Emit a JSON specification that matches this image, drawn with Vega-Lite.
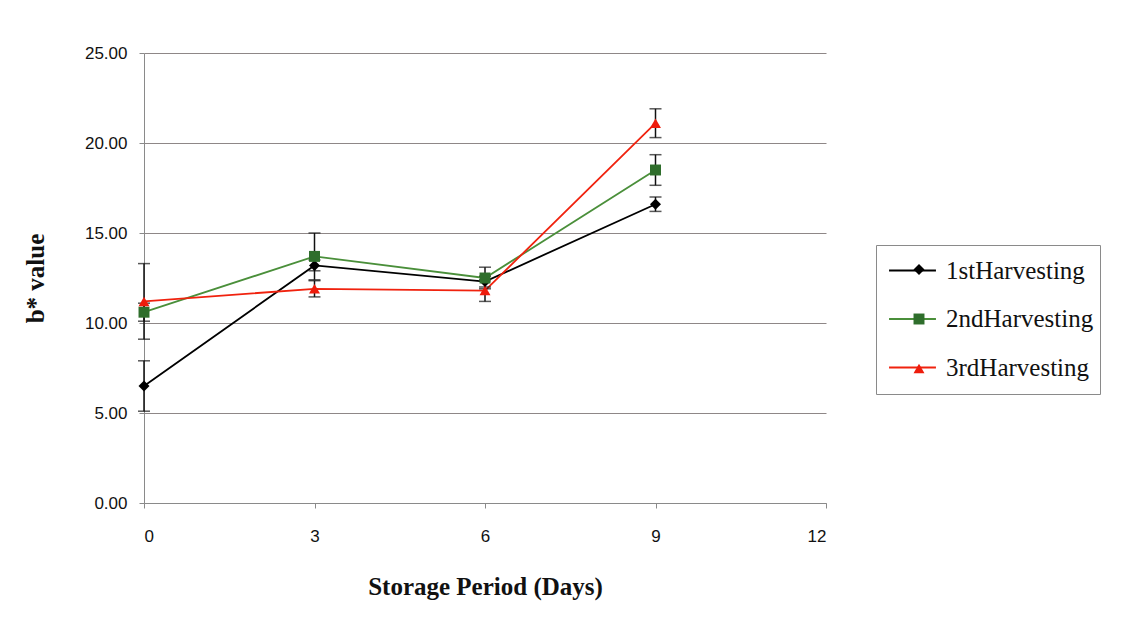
{
  "$schema": "https://vega.github.io/schema/vega-lite/v6.json",
  "width": 682,
  "height": 450,
  "autosize": "none",
  "padding": {"left": 144, "top": 53, "right": 297, "bottom": 129},
  "background": "white",
  "config": {
    "view": {"stroke": null},
    "axis": {"labelFont": "Liberation Sans", "labelFontSize": 17, "labelColor": "#111", "domainColor": "#8a8a8a", "tickColor": "#8a8a8a", "titleFont": "Liberation Serif", "titleFontSize": 25, "titleFontWeight": "bold", "titleColor": "#111"}
  },
  "data": {"values": [
    {"day": 0, "series": "1stHarvesting", "harvest": "1stHarvesting", "value": 6.5, "err": 1.4},
    {"day": 3, "series": "1stHarvesting", "harvest": "1stHarvesting", "value": 13.2, "err": 0.3},
    {"day": 6, "series": "1stHarvesting", "harvest": "1stHarvesting", "value": 12.3, "err": 0.3},
    {"day": 9, "series": "1stHarvesting", "harvest": "1stHarvesting", "value": 16.6, "err": 0.4},
    {"day": 0, "series": "2ndHarvesting", "harvest": "2ndHarvesting", "value": 10.6, "err": 0.5},
    {"day": 3, "series": "2ndHarvesting", "harvest": "2ndHarvesting", "value": 13.7, "err": 1.3},
    {"day": 6, "series": "2ndHarvesting", "harvest": "2ndHarvesting", "value": 12.5, "err": 0.6},
    {"day": 9, "series": "2ndHarvesting", "harvest": "2ndHarvesting", "value": 18.5, "err": 0.85},
    {"day": 0, "series": "3rdHarvesting", "harvest": "3rdHarvesting", "value": 11.2, "err": 2.1},
    {"day": 3, "series": "3rdHarvesting", "harvest": "3rdHarvesting", "value": 11.9, "err": 0.45},
    {"day": 6, "series": "3rdHarvesting", "harvest": "3rdHarvesting", "value": 11.8, "err": 0.6},
    {"day": 9, "series": "3rdHarvesting", "harvest": "3rdHarvesting", "value": 21.1, "err": 0.8}
  ]},
  "encoding": {
    "x": {"field": "day", "type": "quantitative", "scale": {"domain": [0, 12], "nice": false},
      "axis": {"values": [0, 3, 6, 9, 12], "grid": false, "tickSize": 5, "labelPadding": 20, "title": "Storage Period (Days)", "titlePadding": 30}},
    "y": {"field": "value", "type": "quantitative", "scale": {"domain": [0, 25], "nice": false},
      "axis": {"values": [0, 5, 10, 15, 20, 25], "format": ".2f", "grid": true, "gridColor": "#8e8787", "gridWidth": 1, "tickSize": 5, "labelPadding": 12, "title": "b* value", "titleAngle": 270, "titleX": -109, "titleY": 225, "titleAlign": "center", "titleBaseline": "middle"}}
  },
  "layer": [
    {
      "mark": {"type": "line", "strokeWidth": 1.8},
      "encoding": {
        "color": {"field": "series", "type": "nominal",
          "scale": {"domain": ["1stHarvesting", "2ndHarvesting", "3rdHarvesting"], "range": ["#000000", "#4a8f3a", "#f0220e"]},
          "legend": {"orient": "none", "legendX": 744, "legendY": 193, "title": null, "symbolType": "stroke", "symbolSize": 2200, "symbolStrokeWidth": 1.8, "labelFont": "Liberation Serif", "labelFontSize": 25, "labelColor": "#111", "labelOffset": 9, "rowPadding": 10.5, "padding": 0}}
      }
    },
    {
      "mark": {"type": "errorbar", "color": "#111", "thickness": 1.5, "ticks": {"size": 12, "color": "#111", "thickness": 1.5}},
      "encoding": {"yError": {"field": "err"}}
    },
    {
      "mark": {"type": "point", "filled": true, "opacity": 1, "size": 120},
      "encoding": {
        "fill": {"field": "harvest", "type": "nominal",
          "scale": {"range": ["#000000", "#2f6e2c", "#ee1c0c"]},
          "legend": {"orient": "none", "legendX": 732, "legendY": 192, "title": null, "symbolSize": 120, "symbolOffset": 18.5, "labelFont": "Liberation Serif", "labelFontSize": 25, "labelExpr": "''", "labelOffset": 156, "rowPadding": 23.5, "padding": 12, "strokeColor": "#8a8a8a"}},
        "shape": {"field": "harvest", "type": "nominal",
          "scale": {"range": ["diamond", "square", "triangle-up"]},
          "legend": {"orient": "none", "legendX": 732, "legendY": 192, "title": null, "symbolSize": 120, "symbolOffset": 18.5, "labelFont": "Liberation Serif", "labelFontSize": 25, "labelExpr": "''", "labelOffset": 156, "rowPadding": 23.5, "padding": 12, "strokeColor": "#8a8a8a"}}
      }
    }
  ]
}
